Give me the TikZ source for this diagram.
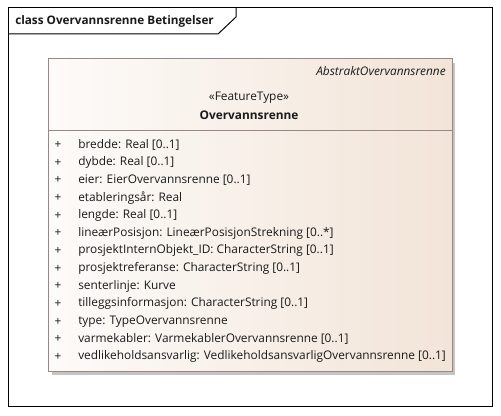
\documentclass[tikz,border=0pt]{standalone}
\usepackage{fontspec}
\setmainfont{Open Sans}
\begin{document}
\begin{tikzpicture}[x=0.75pt,y=-0.75pt]
\definecolor{boxborder}{HTML}{9A8784}
\definecolor{boxleft}{HTML}{FDFBF9}
\definecolor{boxright}{HTML}{F2E4D8}
\definecolor{shadowgray}{HTML}{C4C4C4}
\definecolor{txt}{HTML}{1A1A1A}
\tikzset{
  attrtext/.style={anchor=west, inner sep=0pt, text=txt, font=\fontsize{8.9}{10}\selectfont},
  plustext/.style={anchor=center, inner sep=0pt, text=txt, font=\fontsize{8.9}{10}\selectfont},
  headtext/.style={anchor=center, inner sep=0pt, text=txt, font=\fontsize{8.9}{10}\selectfont},
  framepen/.style={draw=black, line width=0.75pt},
  boxpen/.style={draw=boxborder, line width=0.75pt},
}
\useasboundingbox (0,0) rectangle (501,416);
\fill[white] (0,0) rectangle (501,416);
% diagram frame and title tab
\draw[framepen] (8,8) rectangle (492,407);
\draw[framepen] (8,34) -- (218,34) -- (236,17) -- (236,8);
\node[anchor=west, inner sep=0pt, text=txt, font=\bfseries\fontsize{8.8}{10}\selectfont] (title) at (15,21) {class Overvannsrenne Betingelser};
% class box
\fill[shadowgray] (52,63) rectangle (455,375);
\shade[left color=boxleft, right color=boxright] (48,59) rectangle (452,372);
\draw[boxpen] (48,59) rectangle (452,372);
\draw[boxpen] (48,131) -- (452,131);
\node[anchor=east, inner sep=0pt, text=txt, font=\itshape\fontsize{8.9}{10}\selectfont] (parent) at (446,71) {AbstraktOvervannsrenne};
\node[headtext] (stereo) at (249,98) {«FeatureType»};
\node[headtext, font=\bfseries\fontsize{8.9}{10}\selectfont] (cname) at (249,115) {Overvannsrenne};
\foreach \t [count=\i from 0] in {
  {bredde: Real [0..1]},
  {dybde: Real [0..1]},
  {eier: EierOvervannsrenne [0..1]},
  {etableringsår: Real},
  {lengde: Real [0..1]},
  {lineærPosisjon: LineærPosisjonStrekning [0..*]},
  {prosjektInternObjekt\_ID: CharacterString [0..1]},
  {prosjektreferanse: CharacterString [0..1]},
  {senterlinje: Kurve},
  {tilleggsinformasjon: CharacterString [0..1]},
  {type: TypeOvervannsrenne},
  {varmekabler: VarmekablerOvervannsrenne [0..1]},
  {vedlikeholdsansvarlig: VedlikeholdsansvarligOvervannsrenne [0..1]}} {
  \node[plustext] (p\i) at (58,{145+17.65*\i}) {+};
  \node[attrtext] (a\i) at (78,{145+17.65*\i}) {\t};
}
\end{tikzpicture}
\end{document}
